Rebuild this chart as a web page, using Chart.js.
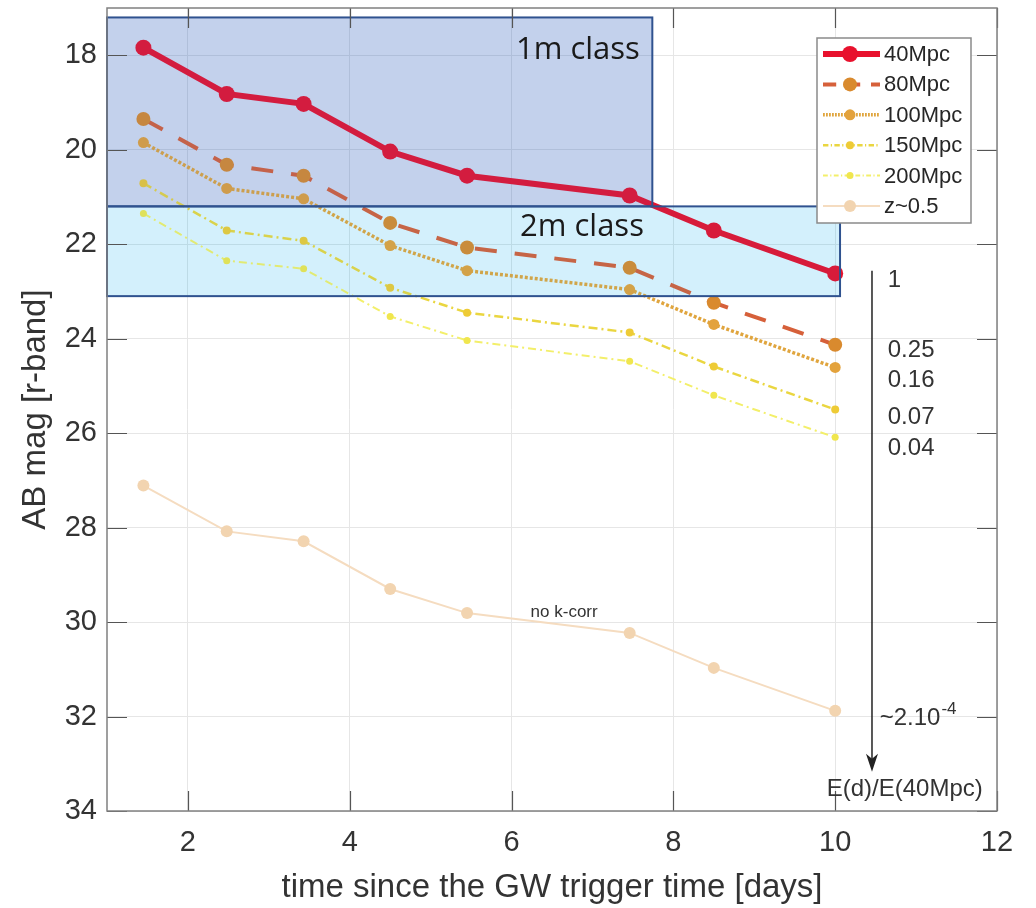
<!DOCTYPE html>
<html>
<head>
<meta charset="utf-8">
<script src="https://cdn.jsdelivr.net/npm/chart.js@4.4.1/dist/chart.umd.min.js"></script>
<style>
  html, body { margin: 0; padding: 0; background: #fff; }
</style>
</head>
<body>
<canvas id="kilonova" width="1036" height="908"></canvas>
<script>
// light curve values (AB mag, r band)
const days   = [1.45, 2.48, 3.43, 4.50, 5.45, 7.46, 8.50, 10.0];
const mag40  = [17.84, 18.82, 19.03, 20.04, 20.55, 20.97, 21.71, 22.62];
const mag80  = [19.35, 20.32, 20.55, 21.55, 22.07, 22.50, 23.24, 24.13];
const mag100 = [19.85, 20.82, 21.04, 22.03, 22.56, 22.96, 23.70, 24.61];
const mag150 = [20.71, 21.71, 21.93, 22.92, 23.45, 23.87, 24.59, 25.50];
const mag200 = [21.35, 22.35, 22.52, 23.53, 24.04, 24.48, 25.20, 26.09];
const magZ05 = [27.11, 28.08, 28.29, 29.30, 29.81, 30.23, 30.97, 31.88];
const seriesNames = ['40Mpc', '80Mpc', '100Mpc', '150Mpc', '200Mpc', 'z~0.5'];

const xTicks = [2, 4, 6, 8, 10, 12];
const yTicks = [18, 20, 22, 24, 26, 28, 30, 32, 34];

// telescope class limits (x range, mag range)
const boxLabels = ['1m class', '2m class'];
const boxX = [[1, 7.74], [1, 10.06]];
const boxY = [[17.2, 21.2], [21.2, 23.1]];

// energy ratio labels next to the arrow
const ratioLabels = ['1', '0.25', '0.16', '0.07', '0.04'];
const ratioMag = [22.77, 24.25, 24.89, 25.67, 26.32];

const allMags = [mag40, mag80, mag100, mag150, mag200, magZ05];

const styles = [
  { line: '#e8112d', point: '#e8112d', width: 6,   dash: [],             r: 8 },
  { line: '#d6603a', point: '#d98a2e', width: 4,   dash: [22, 18],       r: 7 },
  { line: '#e0a53e', point: '#e3a23c', width: 3.5, dash: [3, 2],         r: 5.5 },
  { line: '#ead640', point: '#eecb36', width: 2.5, dash: [9, 4, 2, 4],   r: 4 },
  { line: '#f3ef6a', point: '#f0e64e', width: 2,   dash: [8, 4, 2, 4],   r: 3.5 },
  { line: '#f5dcc0', point: '#f2d4b0', width: 2,   dash: [],             r: 6 }
];

const datasets = allMags.map((m, i) => ({
  label: seriesNames[i],
  data: days.map((d, j) => ({ x: d, y: m[j] })),
  borderColor: styles[i].line,
  borderWidth: styles[i].width,
  borderDash: styles[i].dash,
  pointRadius: styles[i].r,
  pointHoverRadius: styles[i].r,
  pointBackgroundColor: styles[i].point,
  pointBorderWidth: 0,
  fill: false,
  tension: 0
}));

function boxRect(chart, i) {
  const { x, y } = chart.scales;
  const x0 = x.getPixelForValue(boxX[i][0]), x1 = x.getPixelForValue(boxX[i][1]);
  const y0 = y.getPixelForValue(boxY[i][0]), y1 = y.getPixelForValue(boxY[i][1]);
  return [x0, y0, x1 - x0, y1 - y0];
}

const overlay = {
  id: 'overlay',
  beforeDatasetsDraw(chart) {
    const ctx = chart.ctx;
    const under = ['rgba(68,114,196,0.23)', 'rgba(0,176,240,0.11)'];
    ctx.save();
    boxLabels.forEach((lab, i) => {
      ctx.fillStyle = under[i];
      ctx.fillRect(...boxRect(chart, i));
    });
    ctx.restore();
  },
  afterDatasetsDraw(chart) {
    const { ctx, scales: { x, y } } = chart;
    const over = ['rgba(68,114,196,0.12)', 'rgba(0,176,240,0.07)'];
    ctx.save();
    boxLabels.forEach((lab, i) => {
      ctx.fillStyle = over[i];
      ctx.fillRect(...boxRect(chart, i));
    });
    boxLabels.forEach((lab, i) => {
      ctx.strokeStyle = '#2f528f';
      ctx.lineWidth = 2;
      ctx.strokeRect(...boxRect(chart, i));
    });
    ctx.fillStyle = '#1a1a1a';
    ctx.font = '31px "Open Sans"';
    ctx.textAlign = 'center';
    ctx.textBaseline = 'middle';
    ctx.fillText(boxLabels[0], x.getPixelForValue(6.82), y.getPixelForValue(17.89));
    ctx.fillText(boxLabels[1], x.getPixelForValue(6.87), y.getPixelForValue(21.63));
    ctx.restore();
  },
  afterDraw(chart) {
    const { ctx, chartArea: a, scales: { x, y } } = chart;
    ctx.save();
    // inner tick marks on all four sides
    ctx.strokeStyle = '#555';
    ctx.lineWidth = 1.2;
    const tl = 20;
    ctx.beginPath();
    xTicks.forEach(v => {
      const px = Math.round(x.getPixelForValue(v)) + 0.5;
      ctx.moveTo(px, a.bottom); ctx.lineTo(px, a.bottom - tl);
      ctx.moveTo(px, a.top); ctx.lineTo(px, a.top + tl);
    });
    yTicks.forEach(v => {
      const py = Math.round(y.getPixelForValue(v)) + 0.5;
      ctx.moveTo(a.left, py); ctx.lineTo(a.left + tl, py);
      ctx.moveTo(a.right, py); ctx.lineTo(a.right - tl, py);
    });
    ctx.stroke();
    // frame
    ctx.strokeStyle = '#808080';
    ctx.lineWidth = 1.5;
    ctx.strokeRect(a.left, a.top, a.right - a.left, a.bottom - a.top);

    // arrow with energy ratios
    const ax = x.getPixelForValue(10.455);
    const ay0 = y.getPixelForValue(22.56), ay1 = y.getPixelForValue(33.17);
    ctx.strokeStyle = '#222';
    ctx.fillStyle = '#222';
    ctx.lineWidth = 1.5;
    ctx.beginPath();
    ctx.moveTo(ax, ay0); ctx.lineTo(ax, ay1 - 10);
    ctx.stroke();
    ctx.beginPath();
    ctx.moveTo(ax, ay1);
    ctx.lineTo(ax - 6, ay1 - 18);
    ctx.lineTo(ax, ay1 - 13);
    ctx.lineTo(ax + 6, ay1 - 18);
    ctx.closePath();
    ctx.fill();

    ctx.fillStyle = '#333';
    ctx.font = '24px "Liberation Sans", Arial, sans-serif';
    ctx.textAlign = 'left';
    ctx.textBaseline = 'middle';
    ratioLabels.forEach((t, i) => {
      ctx.fillText(t, x.getPixelForValue(10.65), y.getPixelForValue(ratioMag[i]));
    });
    const sx = x.getPixelForValue(10.55), sy = y.getPixelForValue(32.03);
    ctx.fillText('~2.10', sx, sy);
    const w = ctx.measureText('~2.10').width;
    ctx.font = '17px "Liberation Sans", Arial, sans-serif';
    ctx.fillText('-4', sx + w + 1, sy - 9);
    ctx.font = '24px "Liberation Sans", Arial, sans-serif';
    ctx.textAlign = 'center';
    ctx.fillText('E(d)/E(40Mpc)', x.getPixelForValue(10.86), y.getPixelForValue(33.55));
    ctx.font = '17px "Liberation Sans", Arial, sans-serif';
    ctx.fillText('no k-corr', x.getPixelForValue(6.65), y.getPixelForValue(29.79));

    // legend box
    const lx = a.right - 180, ly = a.top + 30, lw = 154, lh = 185;
    ctx.fillStyle = '#fff';
    ctx.fillRect(lx, ly, lw, lh);
    ctx.strokeStyle = '#8a8a8a';
    ctx.lineWidth = 1.5;
    ctx.strokeRect(lx, ly, lw, lh);
    ctx.font = '22px "Liberation Sans", Arial, sans-serif';
    ctx.textAlign = 'left';
    seriesNames.forEach((n, i) => {
      const s = styles[i];
      const ry = ly + 16 + i * 30.4;
      ctx.strokeStyle = s.line;
      ctx.lineWidth = s.width;
      ctx.setLineDash(s.dash.map(d => d * 0.6));
      ctx.beginPath();
      ctx.moveTo(lx + 6, ry); ctx.lineTo(lx + 63, ry);
      ctx.stroke();
      ctx.setLineDash([]);
      ctx.fillStyle = s.point;
      ctx.beginPath();
      ctx.arc(lx + 33, ry, s.r, 0, Math.PI * 2);
      ctx.fill();
      ctx.fillStyle = '#262626';
      ctx.fillText(n, lx + 67, ry + 1);
    });
    ctx.restore();
  }
};

const tickFont = { family: '"Liberation Sans", Arial, sans-serif', size: 29 };
const titleFont = { family: '"Liberation Sans", Arial, sans-serif', size: 33 };

new Chart(document.getElementById('kilonova'), {
  type: 'line',
  data: { datasets },
  options: {
    responsive: false,
    animation: false,
    layout: { padding: { top: 7, right: 39, left: 0, bottom: 0 } },
    plugins: { legend: { display: false }, tooltip: { enabled: false } },
    scales: {
      x: {
        type: 'linear',
        min: 1, max: 12,
        afterBuildTicks: s => { s.ticks = xTicks.map(v => ({ value: v })); },
        afterFit: s => { s.height = 97; s.paddingLeft = 0; s.paddingRight = 0; },
        grid: { color: '#e6e6e6', drawTicks: false },
        border: { display: false },
        ticks: { font: tickFont, color: '#333', padding: 15, maxRotation: 0 },
        title: { display: true, text: 'time since the GW trigger time [days]', font: titleFont, color: '#333', padding: { top: 0, bottom: 0 } }
      },
      y: {
        type: 'linear',
        reverse: true,
        min: 17, max: 34,
        afterBuildTicks: s => { s.ticks = yTicks.map(v => ({ value: v })); },
        afterFit: s => { s.width = 107; s.paddingTop = 0; s.paddingBottom = 0; },
        grid: { color: '#e6e6e6', drawTicks: false },
        border: { display: false },
        ticks: { font: tickFont, color: '#333', padding: 10 },
        title: { display: true, text: 'AB mag [r-band]', font: titleFont, color: '#333', padding: { top: 16, bottom: 0 } }
      }
    }
  },
  plugins: [overlay]
});
</script>
</body>
</html>
